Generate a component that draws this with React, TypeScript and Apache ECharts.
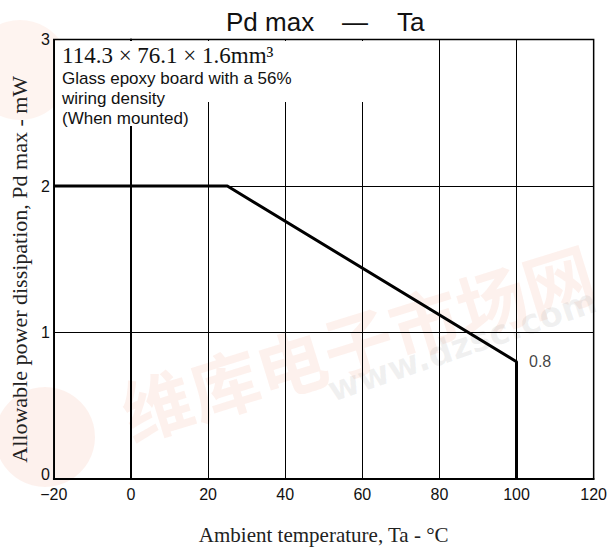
import React, { useEffect, useRef } from 'react';
import * as echarts from 'echarts';

// Derating curve: Pd max vs Ta
const temperature = [-20, 25, 100, 100];
const power = [2, 2, 0.8, 0];
const labelPoint = [100, 0.8];
const labelText = '0.8';

const xMin = -20;
const xMax = 120;
const xStep = 20;
const yMin = 0;
const yMax = 3;
const yStep = 1;

const titleLeft = 'Pd max';
const titleDash = '—';
const titleRight = 'Ta';
const xName = 'Ambient temperature, Ta - °C';
const yName = 'Allowable power dissipation, Pd max - mW';
const boardText = '114.3 × 76.1 × 1.6mm³';
const noteLines = ['Glass epoxy board with a 56%', 'wiring density', '(When mounted)'];
const watermarkCn = '维库电子市场网';
const watermarkUrl = 'www.dzsc.com';

const watermarkGraphics = [
  {
    type: 'circle',
    silent: true,
    z: -10,
    shape: { cx: 45, cy: 437, r: 50 },
    style: { fill: 'rgba(240,130,90,0.11)' },
  },
  {
    type: 'circle',
    silent: true,
    z: -10,
    shape: { cx: 20, cy: 70, r: 50 },
    style: { fill: 'rgba(240,130,90,0.09)' },
  },
  {
    type: 'text',
    silent: true,
    z: -10,
    x: 357,
    y: 340,
    rotation: 0.3,
    style: {
      text: watermarkCn,
      fontFamily: 'Noto Sans CJK SC',
      fontWeight: 'bold',
      fontSize: 70,
      fill: 'rgba(240,120,80,0.10)',
      align: 'center',
      verticalAlign: 'middle',
    },
  },
  {
    type: 'text',
    silent: true,
    z: -10,
    x: 462,
    y: 345,
    rotation: 0.33,
    style: {
      text: watermarkUrl,
      fontFamily: 'DejaVu Sans',
      fontWeight: 'bold',
      fontSize: 34,
      fill: 'rgba(140,140,140,0.12)',
      align: 'center',
      verticalAlign: 'middle',
    },
  },
];

export default function App() {
  const ref = useRef<HTMLDivElement>(null);

  useEffect(() => {
    if (!ref.current) return;
    const chart = echarts.init(ref.current, null, { renderer: 'svg' });
    const option: any = {
      animation: false,
      backgroundColor: '#ffffff',
      title: {
        text: `{a|${titleLeft}}{d|${titleDash}}{b|${titleRight}}`,
        left: 226,
        top: 9,
        padding: 0,
        textStyle: {
          fontFamily: 'Liberation Sans',
          fontSize: 26,
          fontWeight: 'normal',
          color: '#111',
          rich: {
            a: { fontFamily: 'Liberation Sans', fontSize: 26, color: '#111', width: 116 },
            d: { fontFamily: 'Liberation Sans', fontSize: 26, color: '#111', width: 55 },
            b: { fontFamily: 'Liberation Sans', fontSize: 26, color: '#111' },
          },
        },
      },
      grid: {
        left: 53.5,
        right: 13.3,
        top: 39.5,
        bottom: 69,
        show: true,
        borderColor: '#000',
        borderWidth: 1.5,
        containLabel: false,
      },
      xAxis: {
        type: 'value',
        min: xMin,
        max: xMax,
        interval: xStep,
        name: xName,
        nameLocation: 'middle',
        nameGap: 45,
        nameTextStyle: {
          fontFamily: 'Liberation Serif',
          fontSize: 21,
          color: '#222',
        },
        axisLine: { show: true, lineStyle: { color: '#000', width: 2 } },
        axisTick: { show: false },
        axisLabel: {
          margin: 7,
          fontFamily: 'Liberation Sans',
          fontSize: 16,
          color: '#111',
          formatter: (v: number) => (v < 0 ? '\u2212' + Math.abs(v) : String(v)),
        },
        splitLine: { show: true, lineStyle: { color: '#000', width: 1 } },
      },
      yAxis: {
        type: 'value',
        min: yMin,
        max: yMax,
        interval: yStep,
        name: yName,
        nameLocation: 'middle',
        nameGap: 22,
        nameTextStyle: {
          fontFamily: 'Liberation Serif',
          fontSize: 22,
          color: '#222',
          padding: [0, 20, 0, 0],
        },
        axisLine: { show: true, lineStyle: { color: '#000', width: 2 } },
        axisTick: { show: false },
        axisLabel: {
          margin: 4,
          fontFamily: 'Liberation Sans',
          fontSize: 16,
          color: '#111',
          formatter: (v: number) => (v === 0 ? '{z|0}' : String(v)),
          rich: {
            z: { fontFamily: 'Liberation Sans', fontSize: 16, color: '#111', padding: [0, 0, 10, 0] },
          },
        },
        splitLine: { show: true, lineStyle: { color: '#000', width: 1 } },
      },
      graphic: [
        ...watermarkGraphics,
        {
          type: 'rect',
          silent: true,
          z: 1,
          shape: { x: 55, y: 41, width: 317, height: 61 },
          style: { fill: '#ffffff' },
        },
        {
          type: 'rect',
          silent: true,
          z: 1,
          shape: { x: 55, y: 101, width: 145, height: 25 },
          style: { fill: '#ffffff' },
        },
        {
          type: 'text',
          z: 3,
          x: 62,
          y: 55,
          style: {
            text: boardText,
            fontFamily: 'Liberation Serif',
            fontSize: 23,
            fill: '#111',
            verticalAlign: 'middle',
          },
        },
        ...noteLines.map((line, i) => ({
          type: 'text',
          z: 3,
          x: 62,
          y: 78 + i * 20,
          style: {
            text: line,
            fontFamily: 'Liberation Sans',
            fontSize: 17,
            fill: '#111',
            verticalAlign: 'middle',
          },
        })),
      ],
      series: [
        {
          type: 'line',
          data: temperature.map((t, i) => [t, power[i]]),
          symbol: 'none',
          lineStyle: { color: '#000', width: 3 },
          z: 2,
        },
        {
          type: 'scatter',
          data: [labelPoint],
          symbolSize: 1,
          itemStyle: { color: '#000' },
          label: {
            show: true,
            position: 'right',
            distance: 12,
            formatter: labelText,
            fontFamily: 'Liberation Sans',
            fontSize: 16,
            color: '#111',
          },
          z: 3,
        },
      ],
    };
    chart.setOption(option);
    return () => chart.dispose();
  }, []);

  return (
    <div
      ref={ref}
      style={{ position: 'fixed', left: 0, top: 0, width: 610, height: 550, background: '#fff' }}
    />
  );
}
